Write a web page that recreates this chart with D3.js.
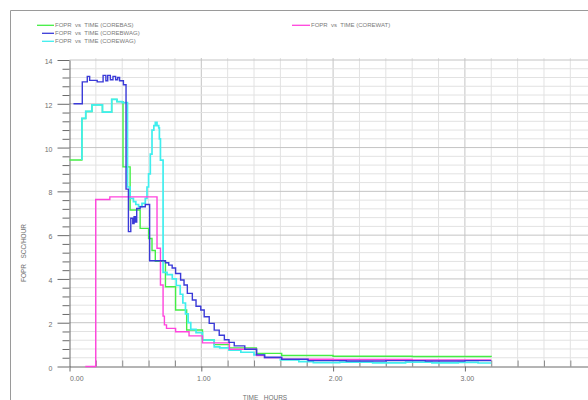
<!DOCTYPE html>
<html>
<head>
<meta charset="utf-8">
<script src="https://cdn.jsdelivr.net/npm/d3@7"></script>
<style>
  html, body { margin: 0; padding: 0; background: #fff; }
  svg { display: block; font-family: "Liberation Sans", Arial, sans-serif; }
</style>
</head>
<body>
<svg id="chart" width="588" height="400"></svg>
<script>
// Field oil production rate (FOPR, SCC/HOUR) against time (hours) for four core runs.

// COREBAS
const timeBAS = [0, 0.094, 0.123, 0.17, 0.25, 0.32, 0.36, 0.406, 0.46, 0.536, 0.6, 0.626, 0.651, 0.728, 0.805, 0.889, 1.009, 1.098, 1.213, 1.418, 1.61, 2.0, 2.6, 3.2];
const foprBAS = [9.43, 11.33, 11.65, 11.95, 11.62, 12.2, 12.1, 9.12, 7.15, 6.31, 5.85, 5.3, 4.8, 3.64, 2.58, 1.67, 1.21, 1.0, 0.85, 0.6, 0.5, 0.47, 0.46, 0.45];

// COREBWAG
const timeBWAG = [0.03, 0.097, 0.135, 0.153, 0.21, 0.255, 0.276, 0.29, 0.31, 0.33, 0.35, 0.365, 0.38, 0.409, 0.429, 0.447, 0.465, 0.48, 0.49, 0.50, 0.51, 0.536, 0.575, 0.608, 0.728, 0.753, 0.779, 0.805, 0.843, 0.869, 0.894, 0.932, 0.96, 0.996, 1.022, 1.06, 1.098, 1.136, 1.175, 1.21, 1.25, 1.33, 1.42, 1.48, 1.61, 1.81, 2.1, 2.4, 2.7, 3.0, 3.2];
const foprBWAG = [12.0, 13.0, 13.25, 13.07, 13.0, 13.3, 13.05, 13.3, 13.1, 13.25, 13.1, 13.2, 13.05, 12.87, 8.1, 6.16, 6.77, 6.53, 6.84, 6.6, 7.22, 7.3, 7.4, 4.83, 4.74, 4.63, 4.5, 4.25, 3.95, 3.72, 3.34, 3.04, 2.75, 2.58, 2.27, 1.97, 1.66, 1.43, 1.22, 1.1, 0.94, 0.79, 0.53, 0.42, 0.33, 0.27, 0.25, 0.27, 0.25, 0.27, 0.27];

// COREWAG
const timeWAG = [0.094, 0.094, 0.123, 0.17, 0.25, 0.32, 0.36, 0.40, 0.44, 0.46, 0.485, 0.503, 0.524, 0.55, 0.575, 0.588, 0.6, 0.613, 0.626, 0.64, 0.651, 0.664, 0.677, 0.682, 0.69, 0.71, 0.74, 0.78, 0.81, 0.84, 0.86, 0.88, 0.90, 0.92, 0.96, 1.009, 1.098, 1.14, 1.21, 1.3, 1.4, 1.48, 1.6, 1.74, 1.85, 2.05, 2.3, 2.55, 2.75, 2.95, 3.1, 3.2];
const foprWAG = [9.43, 11.33, 11.65, 11.95, 11.62, 12.2, 12.1, 12.05, 8.2, 7.68, 7.53, 7.4, 7.3, 7.45, 7.68, 8.2, 8.8, 9.7, 10.8, 11.0, 11.15, 11.0, 10.9, 10.4, 9.43, 4.3, 4.2, 4.0, 3.7, 3.3, 2.9, 2.4, 2.0, 1.7, 1.55, 1.21, 0.9, 0.85, 0.75, 0.65, 0.53, 0.4, 0.3, 0.22, 0.18, 0.2, 0.17, 0.2, 0.17, 0.19, 0.16, 0.16];

// COREWAT
const timeWAT = [0.12, 0.199, 0.306, 0.664, 0.69, 0.71, 0.72, 0.736, 0.805, 0.907, 1.009, 1.213, 1.418, 1.48, 1.61, 2.0, 2.6, 3.2];
const foprWAT = [0, 7.63, 7.75, 5.4, 3.72, 2.3, 1.9, 1.74, 1.59, 1.4, 1.08, 0.79, 0.5, 0.4, 0.33, 0.32, 0.3, 0.3];

const legendLabels = ["FOPR  vs  TIME (COREBAS)", "FOPR  vs  TIME (COREBWAG)", "FOPR  vs  TIME (COREWAG)", "FOPR  vs  TIME (COREWAT)"];
const yTickValues = [0, 2, 4, 6, 8, 10, 12, 14];
const xTickValues = [0, 1, 2, 3, 4];
const yAxisTitle = "FOPR   SCC/HOUR";
const xAxisTitle = "TIME   HOURS";

const colorBAS = "#44ee44", colorBWAG = "#3a3ad8", colorWAG = "#40eeee", colorWAT = "#ff44dd";

const series = [
  { t: timeBAS,  q: foprBAS,  color: colorBAS,  width: 1.4 },
  { t: timeWAG,  q: foprWAG,  color: colorWAG,  width: 1.7 },
  { t: timeWAT,  q: foprWAT,  color: colorWAT,  width: 1.4 },
  { t: timeBWAG, q: foprBWAG, color: colorBWAG, width: 1.4 }
];

const svg = d3.select("#chart");
const W = 588, H = 400;

const x = d3.scaleLinear().domain([0, 4]).range([69.5, 596.7]);
const y = d3.scaleLinear().domain([0, 14]).range([366.5, 60]);

// outer frame
svg.append("path")
  .attr("d", `M10.5,${H} V10.5 H${W}`)
  .attr("fill", "none").attr("stroke", "#9a9a9a").attr("stroke-width", 1);

// grid
const grid = svg.append("g");
for (let i = 1; i <= 20; i++) {
  const t = i * 0.2;
  const major = i % 5 === 0;
  grid.append("line")
    .attr("x1", x(t)).attr("x2", x(t))
    .attr("y1", y(14) - 2).attr("y2", y(0))
    .attr("stroke", major ? "#c4c4c4" : "#e2e2e2").attr("stroke-width", 1);
}
for (let i = 1; i <= 35; i++) {
  const v = i * 0.4;
  const major = i % 5 === 0;
  grid.append("line")
    .attr("x1", x(0)).attr("x2", W)
    .attr("y1", y(v)).attr("y2", y(v))
    .attr("stroke", major ? "#c4c4c4" : "#e2e2e2").attr("stroke-width", 1);
}

// axes
const axisColor = "#6a6a6a";
const labelColor = "#6f6f6f";

const yMinor = d3.range(1, 35).filter(i => i % 5 !== 0).map(i => i * 0.4);
svg.append("g")
  .attr("transform", `translate(${x(0)},0)`)
  .call(d3.axisLeft(y).tickValues(yMinor).tickSize(7).tickFormat(""))
  .call(g => g.select(".domain").remove())
  .call(g => g.selectAll("line").attr("stroke", axisColor));

const yAxis = svg.append("g")
  .attr("transform", `translate(${x(0)},0)`)
  .call(d3.axisLeft(y).tickValues(yTickValues).tickSize(12).tickSizeOuter(0).tickPadding(5).tickFormat(d3.format("d")));
yAxis.select(".domain").attr("stroke", axisColor);
yAxis.selectAll("line").attr("stroke", axisColor);
yAxis.selectAll("text").attr("fill", labelColor).attr("font-size", 7).attr("dy", "0.5em");

const xMinor = d3.range(1, 20).filter(i => i % 5 !== 0).map(i => i * 0.2);
svg.append("g")
  .attr("transform", `translate(0,${y(0)})`)
  .call(d3.axisTop(x).tickValues(xMinor).tickSize(6).tickFormat(""))
  .call(g => g.select(".domain").remove())
  .call(g => g.selectAll("line").attr("stroke", "#8a8a8a"));

const xAxis = svg.append("g")
  .attr("transform", `translate(0,${y(0)})`)
  .call(d3.axisBottom(x).tickValues(xTickValues).tickSize(5).tickSizeOuter(0).tickFormat(d3.format(".2f")));
xAxis.select(".domain").attr("stroke", axisColor);
xAxis.selectAll("line").attr("stroke", axisColor);
xAxis.selectAll("text")
  .attr("fill", labelColor).attr("font-size", 7).attr("y", 10)
  .attr("text-anchor", d => d === 0 ? "start" : "middle")
  .attr("dx", d => d === 0 ? 0 : 2);

// axis titles
svg.append("text")
  .attr("transform", `translate(26,253) rotate(-90)`)
  .attr("text-anchor", "middle")
  .attr("font-size", 6.5).attr("fill", labelColor)
  .style("white-space", "pre")
  .text(yAxisTitle);

svg.append("text")
  .attr("x", 265).attr("y", 399.5)
  .attr("text-anchor", "middle")
  .attr("font-size", 6.5).attr("fill", labelColor)
  .style("white-space", "pre")
  .text(xAxisTitle);

// curves
const line = d3.line()
  .x(d => x(d[0]))
  .y(d => y(d[1]))
  .curve(d3.curveStepAfter);

const plot = svg.append("g");
series.forEach(s => {
  plot.append("path")
    .datum(s.t.map((t, i) => [t, s.q[i]]))
    .attr("d", line)
    .attr("fill", "none")
    .attr("stroke", s.color)
    .attr("stroke-width", s.width)
    .attr("stroke-linejoin", "miter");
});

// legend
const legendItems = [
  { label: legendLabels[0], color: colorBAS,  x1: 37,  x2: 54,  tx: 55,  y: 25.3 },
  { label: legendLabels[1], color: colorBWAG, x1: 42,  x2: 54,  tx: 55,  y: 33.3 },
  { label: legendLabels[2], color: colorWAG,  x1: 42,  x2: 54,  tx: 55,  y: 41.3 },
  { label: legendLabels[3], color: colorWAT,  x1: 292, x2: 310, tx: 311, y: 25.3 }
];
const legend = svg.append("g");
legendItems.forEach(d => {
  legend.append("line")
    .attr("x1", d.x1).attr("x2", d.x2)
    .attr("y1", d.y).attr("y2", d.y)
    .attr("stroke", d.color).attr("stroke-width", 1.3);
  legend.append("text")
    .attr("x", d.tx).attr("y", d.y).attr("dy", "0.35em")
    .attr("font-size", 6).attr("fill", "#7a7a7a")
    .style("white-space", "pre")
    .text(d.label);
});
</script>
</body>
</html>
